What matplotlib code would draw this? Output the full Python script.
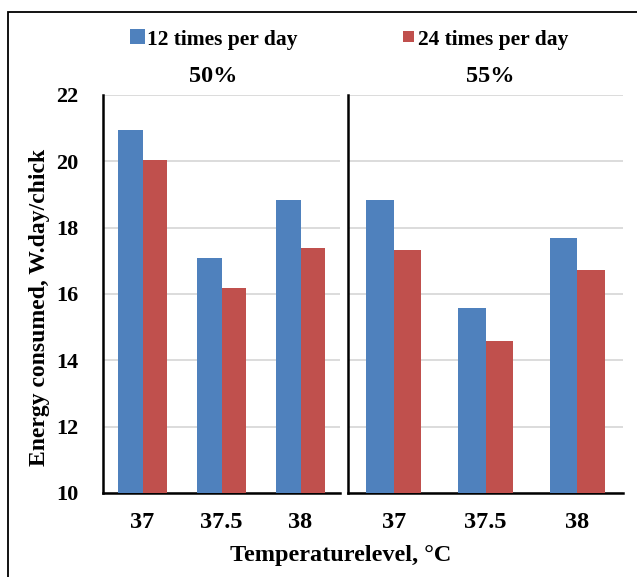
import matplotlib
matplotlib.use("Agg")
import matplotlib.pyplot as plt
from matplotlib.patches import Rectangle
import numpy as np

plt.rcParams['font.family'] = ['Liberation Serif', 'DejaVu Serif']
plt.rcParams['font.weight'] = 'bold'

categories = ["37", "37.5", "38"]
panels = ["50%", "55%"]
series_names = ["12 times per day", "24 times per day"]
vals_50_12 = [20.93, 17.10, 18.84]
vals_50_24 = [20.03, 16.19, 17.40]
vals_55_12 = [18.83, 15.59, 17.69]
vals_55_24 = [17.33, 14.57, 16.73]
yticks = [10, 12, 14, 16, 18, 20, 22]

blue = "#4F81BD"
red = "#C0504D"

W, H = 637, 577
fig = plt.figure(figsize=(W / 100, H / 100), dpi=100)

def fx(px):
    return px / W

def fy(py):
    return 1 - py / H

# outer frame
fig.patches.append(Rectangle((fx(8), -0.05), 1.2, fy(12) + 0.05, transform=fig.transFigure,
                             fill=False, edgecolor="black", linewidth=1.3))

ax1 = fig.add_axes([fx(103), fy(493), fx(340) - fx(103), fy(95) - fy(493)])
ax2 = fig.add_axes([fx(348), fy(493), fx(623) - fx(348), fy(95) - fy(493)])

data = [(vals_50_12, vals_50_24, 0.31), (vals_55_12, vals_55_24, 0.30)]
x = np.arange(len(categories))
for ax, (v12, v24, w), title in zip([ax1, ax2], data, panels):
    ax.bar(x - w / 2, v12, width=w, color=blue, zorder=3, label=series_names[0])
    ax.bar(x + w / 2, v24, width=w, color=red, zorder=3, label=series_names[1])
    ax.set_xlim(-0.5, 2.5)
    ax.set_ylim(10, 22)
    ax.set_yticks(yticks)
    ax.yaxis.grid(True, color="#D9D9D9", linewidth=1.3, zorder=0)
    ax.set_axisbelow(True)
    for s in ["top", "right"]:
        ax.spines[s].set_visible(False)
    for s in ["left", "bottom"]:
        ax.spines[s].set_linewidth(1.8)
        ax.spines[s].set_color("black")
    ax.set_xticks(x)
    ax.set_xticklabels(categories, fontsize=17.5, fontweight="bold")
    ax.tick_params(axis="both", length=0)
    ax.tick_params(axis="x", pad=14)

ax1.set_yticklabels([str(t) for t in yticks], fontsize=16, fontweight="bold")
ax1.tick_params(axis="y", pad=18)
ax2.set_yticklabels([])

fig.text(fx(213), fy(76), panels[0], fontsize=17.5, fontweight="bold", ha="center", va="center")
fig.text(fx(490), fy(76), panels[1], fontsize=17.5, fontweight="bold", ha="center", va="center")

# legend
fig.patches.append(Rectangle((fx(130), fy(44)), fx(15), fy(29) - fy(44), transform=fig.transFigure,
                             facecolor=blue, edgecolor="none"))
fig.text(fx(147), fy(40), series_names[0], fontsize=15.5, fontweight="bold", ha="left", va="center")
fig.patches.append(Rectangle((fx(403), fy(42)), fx(11), fy(31) - fy(42), transform=fig.transFigure,
                             facecolor=red, edgecolor="none"))
fig.text(fx(418), fy(40), series_names[1], fontsize=15.5, fontweight="bold", ha="left", va="center")

fig.text(fx(40), fy(307), "Energy consumed, W.day/chick", fontsize=17, fontweight="bold",
         rotation=90, ha="center", va="center")
fig.text(fx(341), fy(556), "Temperaturelevel, °C", fontsize=17.5, fontweight="bold",
         ha="center", va="center")

fig.savefig("out.png", dpi=100)
